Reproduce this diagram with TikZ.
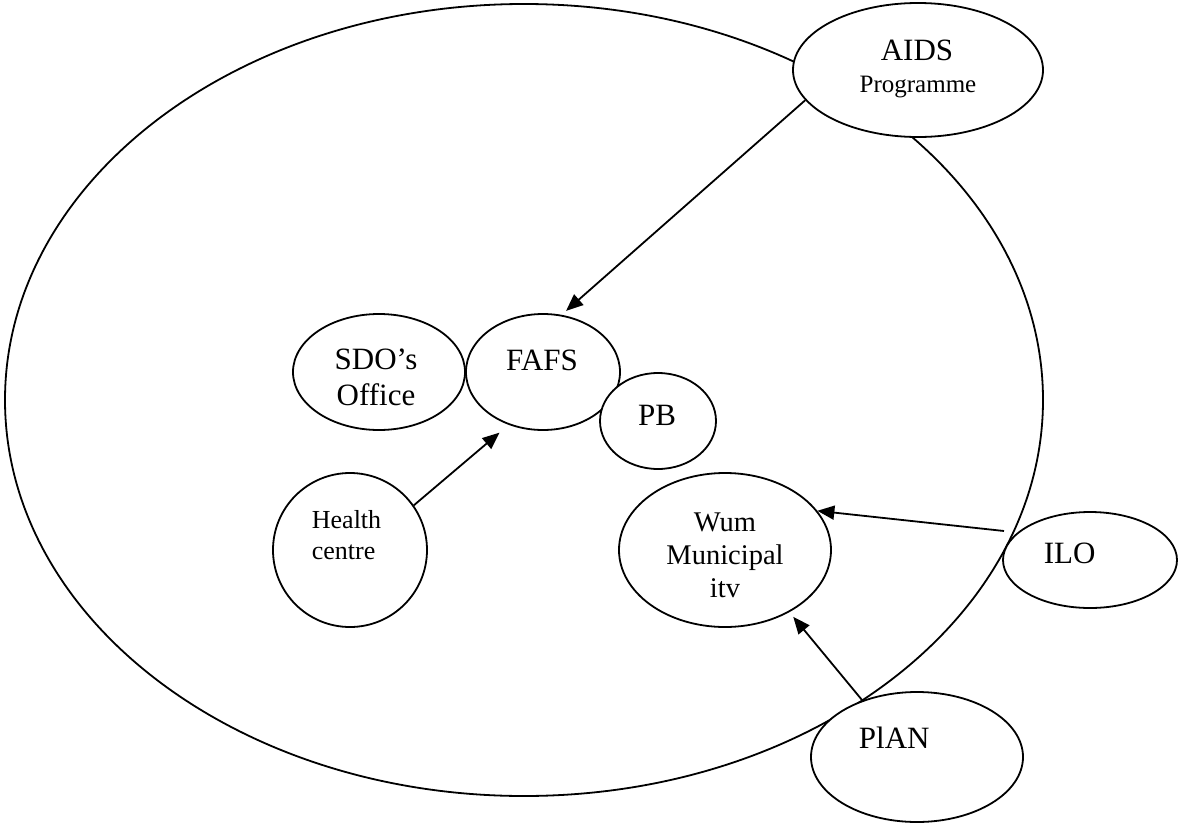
\documentclass[tikz,border=0pt]{standalone}
\usepackage{fontspec}
\setmainfont{Liberation Serif}
\usetikzlibrary{calc,shapes.geometric,arrows.meta}

\begin{document}
\begin{tikzpicture}[x=1pt,y=-1pt,line width=1.8pt]

\tikzset{bubble/.style={draw,shape=ellipse,fill=white,inner sep=0pt},
bigtext/.style={font=\fontsize{31}{36}\selectfont,align=center,anchor=base,inner sep=0pt},
midtext/.style={font=\fontsize{28.5}{33}\selectfont,align=center,anchor=base,inner sep=0pt},
smalltext/.style={font=\fontsize{26}{31}\selectfont,align=left,anchor=base west,inner sep=0pt},
link/.style={-{Triangle[length=17pt,width=14pt]},shorten >=6pt}}

\useasboundingbox (0,0) rectangle (1179,825);

% Big ellipse
\node (community) [bubble,fill=none,minimum width=1038pt,minimum height=792pt] at (524,400) {};

% Outside partners
\node (aids) [bubble,minimum width=250pt,minimum height=134pt] at (918,70) {};
\node (ilo) [bubble,minimum width=174pt,minimum height=96pt] at (1090,560) {};
\node (plan) [bubble,minimum width=212pt,minimum height=130pt] at (917,757) {};

% Inside partners
\node (sdo) [bubble,minimum width=172pt,minimum height=116pt] at (379,372) {};
\node (fafs) [bubble,minimum width=154pt,minimum height=116pt] at (543,372) {};
\node (pb) [bubble,minimum width=116pt,minimum height=96pt] at (658,421) {};
\node (health) [bubble,shape=circle,minimum size=154pt] at (350,550) {};
\node (council) [bubble,minimum width=212pt,minimum height=154pt] at (725,550) {};

% Texts (base = last line)
\node[bigtext] (aidsText) at (917,60) {AIDS};
\node[bigtext,font=\fontsize{25}{30}\selectfont] (progText) at (918,92) {Programme};
\node[bigtext] (sdoText) at (376,405) {SDO’s\\Office};
\node[bigtext] (fafsText) at (542,370) {FAFS};
\node[bigtext] (pbText) at (657,425) {PB};
\node[smalltext] (healthText) at (311,559) {Health\\centre};
\node[midtext] (councilText) at (725,597) {Wum\\Municipal\\itv};
\node[bigtext,anchor=base west] (iloText) at (1043,563) {ILO};
\node[bigtext,anchor=base west] (planText) at (858,748) {PlAN};

% Arrows
\coordinate (iloTail) at (1004,531);
\draw[link] (aids.195) -- (fafs.72);
\draw[link,shorten >=12pt] (health.35) -- (fafs.237);
\draw[link,shorten >=0pt] (iloTail) -- (council.23);
\draw[link] (plan.134) -- (council.316);

\end{tikzpicture}
\end{document}
